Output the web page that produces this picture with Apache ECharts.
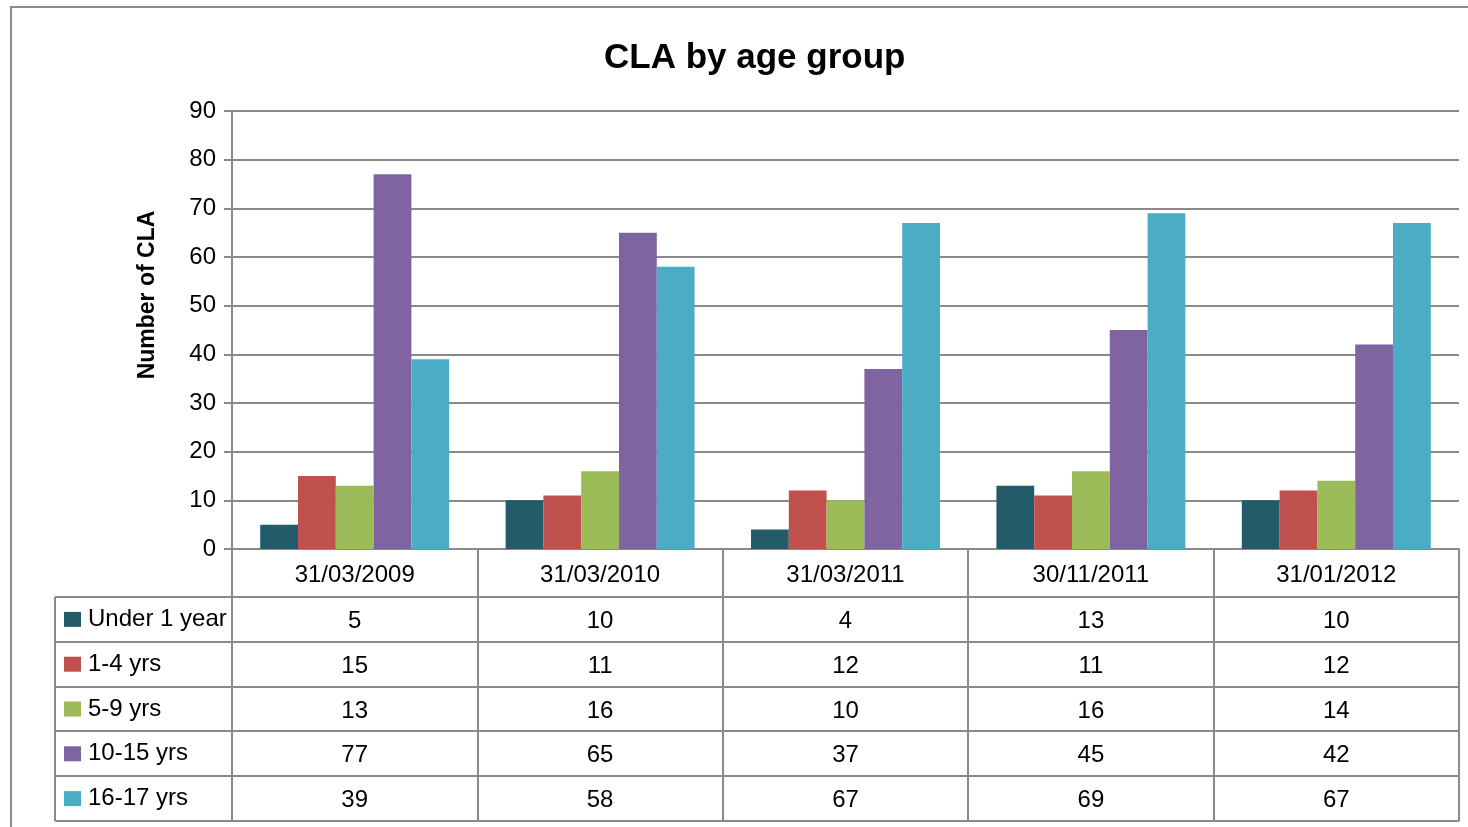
<!DOCTYPE html>
<html>
<head>
<meta charset="utf-8">
<script src="https://cdn.jsdelivr.net/npm/echarts@6/dist/echarts.min.js"></script>
<style>
html,body{margin:0;padding:0;background:#fff;}
#chart{width:1468px;height:827px;}
</style>
</head>
<body>
<div id="chart"></div>
<script>
const categories = ['31/03/2009', '31/03/2010', '31/03/2011', '30/11/2011', '31/01/2012'];
const seriesNames = ['Under 1 year', '1-4 yrs', '5-9 yrs', '10-15 yrs', '16-17 yrs'];
const under1 = [5, 10, 4, 13, 10];
const yrs1to4 = [15, 11, 12, 11, 12];
const yrs5to9 = [13, 16, 10, 16, 14];
const yrs10to15 = [77, 65, 37, 45, 42];
const yrs16to17 = [39, 58, 67, 69, 67];
const yTicks = [0, 10, 20, 30, 40, 50, 60, 70, 80, 90];

const seriesData = [under1, yrs1to4, yrs5to9, yrs10to15, yrs16to17];
const colors = ['#235B69', '#C0504D', '#9BBB59', '#8064A2', '#4BACC6'];
const FONT = '"Liberation Sans", Arial, sans-serif';
const GRID_COLOR = '#8a8a8a';
const FS = 24;

const gridTop = 111, gridBottomY = 549, gridLeft = 232, gridRight = 1459;
const rowTop = 597, rowH = 44.8, tableLeft = 55, tableBottom = 821;

const xAxes = [{
  type: 'category',
  data: categories,
  position: 'bottom',
  boundaryGap: true,
  axisLine: {show: true, lineStyle: {color: GRID_COLOR, width: 2}},
  axisTick: {show: true, length: tableBottom - gridBottomY, lineStyle: {color: GRID_COLOR, width: 2}},
  axisLabel: {fontSize: FS, color: '#000', fontFamily: FONT, margin: 26, verticalAlign: 'middle', interval: 0}
}];
seriesData.forEach((arr, i) => {
  const center = rowTop + rowH * i + rowH / 2;
  xAxes.push({
    type: 'category',
    data: categories,
    position: 'bottom',
    offset: center - gridBottomY - 2,
    axisLine: {show: false},
    axisTick: {show: false},
    splitLine: {show: false},
    axisLabel: {
      fontSize: FS, color: '#000', fontFamily: FONT, margin: 4, verticalAlign: 'middle', interval: 0,
      formatter: (v, idx) => String(arr[idx])
    }
  });
});

const graphics = [
  {type: 'rect', shape: {x: 11, y: 7, width: 1600, height: 1000}, style: {fill: 'none', stroke: '#8c8c8c', lineWidth: 2}, silent: true, z: -1}
];
for (let i = 0; i <= 5; i++) {
  const y = Math.round(rowTop + rowH * i);
  graphics.push({type: 'line', shape: {x1: tableLeft, y1: y, x2: gridRight, y2: y}, style: {stroke: GRID_COLOR, lineWidth: 2}, silent: true});
}
graphics.push({type: 'line', shape: {x1: tableLeft, y1: rowTop, x2: tableLeft, y2: tableBottom}, style: {stroke: GRID_COLOR, lineWidth: 2}, silent: true});

const option = {
  backgroundColor: '#fff',
  animation: false,
  color: colors,
  title: {
    text: 'CLA by age group',
    left: 599,
    top: 36,
    textStyle: {fontSize: 35, fontWeight: 'bold', color: '#000', fontFamily: FONT}
  },
  legend: {
    show: true,
    orient: 'vertical',
    left: 59,
    top: rowTop + rowH / 2 - 17,
    itemWidth: 17,
    itemHeight: 15,
    itemGap: rowH - 24,
    icon: 'rect',
    selectedMode: false,
    textStyle: {fontSize: FS, color: '#000', fontFamily: FONT, lineHeight: 24, padding: [0, 0, 0, 2]},
    data: seriesNames
  },
  grid: {left: gridLeft, right: 1468 - gridRight, top: gridTop, bottom: 827 - gridBottomY, containLabel: false},
  xAxis: xAxes,
  yAxis: {
    type: 'value',
    min: yTicks[0],
    max: yTicks[yTicks.length - 1],
    interval: 10,
    name: 'Number of CLA',
    nameLocation: 'middle',
    nameGap: 73,
    nameRotate: 90,
    nameTextStyle: {fontSize: 23, fontWeight: 'bold', color: '#000', fontFamily: FONT, padding: [0, 0, 0, 70]},
    axisLine: {show: true, lineStyle: {color: GRID_COLOR, width: 2}},
    axisTick: {show: true, length: 8, lineStyle: {color: GRID_COLOR, width: 2}},
    axisLabel: {fontSize: FS, color: '#000', fontFamily: FONT, margin: 16},
    splitLine: {show: true, lineStyle: {color: GRID_COLOR, width: 2}}
  },
  series: seriesNames.map((name, i) => ({
    name: name,
    type: 'bar',
    xAxisIndex: 0,
    data: seriesData[i],
    barGap: '0%',
    barCategoryGap: '23%',
    itemStyle: {color: colors[i]}
  })),
  graphic: graphics
};

const chart = echarts.init(document.getElementById('chart'), null, {renderer: 'canvas'});
chart.setOption(option);
</script>
</body>
</html>
